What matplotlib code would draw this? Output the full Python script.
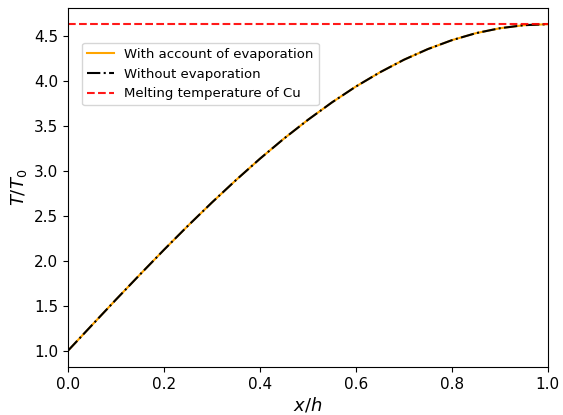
import matplotlib
matplotlib.use("Agg")
import matplotlib.pyplot as plt

# values
x_vals = [0.0, 0.05, 0.1, 0.15, 0.2, 0.25, 0.3, 0.35, 0.4, 0.45, 0.5,
          0.55, 0.6, 0.65, 0.7, 0.75, 0.8, 0.85, 0.9, 0.95, 1.0]
t_evap = [1.000, 1.285, 1.569, 1.848, 2.123, 2.391, 2.650, 2.899, 3.137, 3.361, 3.570,
          3.764, 3.941, 4.099, 4.239, 4.358, 4.457, 4.535, 4.590, 4.624, 4.635]
t_no_evap = [1.000, 1.285, 1.569, 1.848, 2.123, 2.391, 2.650, 2.899, 3.137, 3.361, 3.570,
             3.764, 3.941, 4.099, 4.239, 4.358, 4.457, 4.535, 4.590, 4.624, 4.635]
t_melt = 4.635

fig = plt.figure(figsize=(5.63, 4.15), dpi=100)
ax = fig.add_axes([0.121, 0.116, 0.852, 0.865])

ax.plot(x_vals, t_evap, color="orange", lw=1.5, label="With account of evaporation")
ax.plot(x_vals, t_no_evap, color="black", ls="-.", lw=1.5, label="Without evaporation")
ax.axhline(t_melt, color="red", ls="--", lw=1.5, alpha=0.9, label="Melting temperature of Cu")

ax.set_xlim(0, 1)
ax.set_xlabel("$x/h$", fontsize=13, labelpad=3)
ax.set_ylabel("$T/T_0$", fontsize=13)
ax.tick_params(labelsize=11)
ax.legend(loc="upper left", bbox_to_anchor=(0.029, 0.903), borderaxespad=0, fontsize=9.5)

fig.savefig("out.png", dpi=100)
